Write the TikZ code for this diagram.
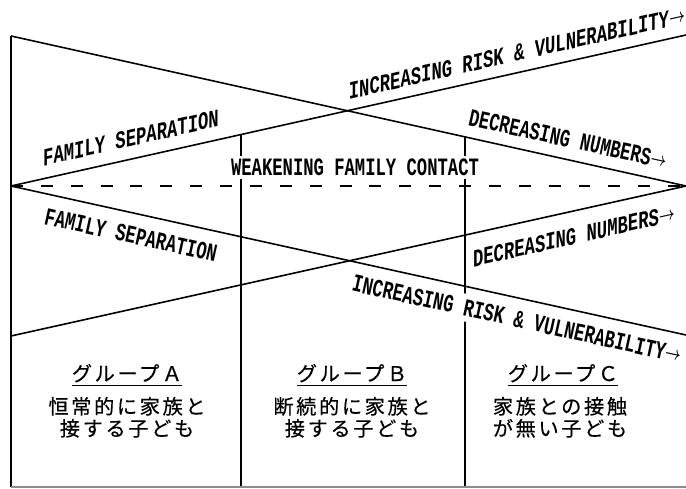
\documentclass[tikz,border=0pt]{standalone}
\usepackage{fontspec}
\newfontfamily\tw[FakeStretch=0.69]{Liberation Mono}
\newfontfamily\jpf[LetterSpace=13,FakeBold=0.4]{Noto Sans CJK JP}
\usetikzlibrary{calc}
\newcommand\myarr{\raisebox{0.15ex}{\scalebox{0.55}[0.75]{\boldmath$\rightarrow$}}}
\begin{document}
\begin{tikzpicture}[x=0.02cm,y=-0.02cm]
\tikzset{
  ln/.style={line width=0.9pt, black},
  lbl/.style={font=\tw\bfseries\fontsize{14.2}{16}\selectfont, inner sep=1pt},
  jp/.style={font=\jpf\fontsize{11.5}{13}\selectfont, inner sep=0pt, anchor=base},
}
\useasboundingbox (0,0) rectangle (686,489);
% key points
\coordinate (TL) at (11,36);
\coordinate (ML) at (11,186);
\coordinate (BL) at (11,336);
\coordinate (BB) at (11,487);
\coordinate (TR) at (686,35);
\coordinate (MR) at (686,186);
\coordinate (BR) at (686,335);
\coordinate (RB) at (686,487);
\coordinate (V1b) at (241,487);
\coordinate (V2b) at (465,487);
\coordinate (V1t) at ($(ML)!0.3407!(TR)$);
\coordinate (V2t) at ($(TL)!0.6726!(MR)$);
% lines
\draw[ln] (TL) -- (BB);
\draw[ln] (TL) -- (MR);
\draw[ln] (ML) -- (TR);
\draw[ln] (ML) -- (BR);
\draw[ln] (BL) -- (MR);
\draw[ln, dash pattern=on 6.8pt off 10.2pt] (ML) -- (MR);
\draw[ln] (V1t) -- (V1b);
\draw[ln] (V2t) -- (V2b);
\draw[line width=0.6pt, black!45] (BB) -- (RB);
% ascending labels (sheared, upright stems)
\begin{scope}[shift={(131,138)}, yslant=0.227]
  \node[lbl, transform shape] (fs1) at (0,0) {FAMILY SEPARATION};
\end{scope}
\begin{scope}[shift={(517,53)}, yslant=0.227]
  \node[lbl, transform shape] (ir1) at (0,0) {INCREASING RISK \& VULNERABILITY\myarr};
\end{scope}
\begin{scope}[shift={(574,236)}, yslant=0.227]
  \node[lbl, transform shape] (dn2) at (0,0) {DECREASING NUMBERS\myarr};
\end{scope}
% descending labels (rotated)
\node[lbl, rotate=-12.4] (dn1) at (568,139) {DECREASING NUMBERS\myarr};
\node[lbl, rotate=-12.4] (fs2) at (131,235) {FAMILY SEPARATION};
\node[lbl, rotate=-12.4, fill=white, inner sep=3pt] (ir2) at (517,319) {INCREASING RISK \& VULNERABILITY\myarr};
% middle label
\node[lbl, fill=white, inner sep=2pt] (wf) at (355,167.5) {WEAKENING FAMILY CONTACT};
% group texts
\node[jp] (ga) at (127,381) {\underline{グループＡ}};
\node[jp] (ga2) at (127,414) {恒常的に家族と};
\node[jp] (ga3) at (127,436) {接する子ども};
\node[jp] (gb) at (352,381) {\underline{グループＢ}};
\node[jp] (gb2) at (352,414) {断続的に家族と};
\node[jp] (gb3) at (352,436) {接する子ども};
\node[jp] (gc) at (563,381) {\underline{グループＣ}};
\node[jp] (gc2) at (560,414) {家族との接触};
\node[jp] (gc3) at (560,436) {が無い子ども};
\end{tikzpicture}
\end{document}
